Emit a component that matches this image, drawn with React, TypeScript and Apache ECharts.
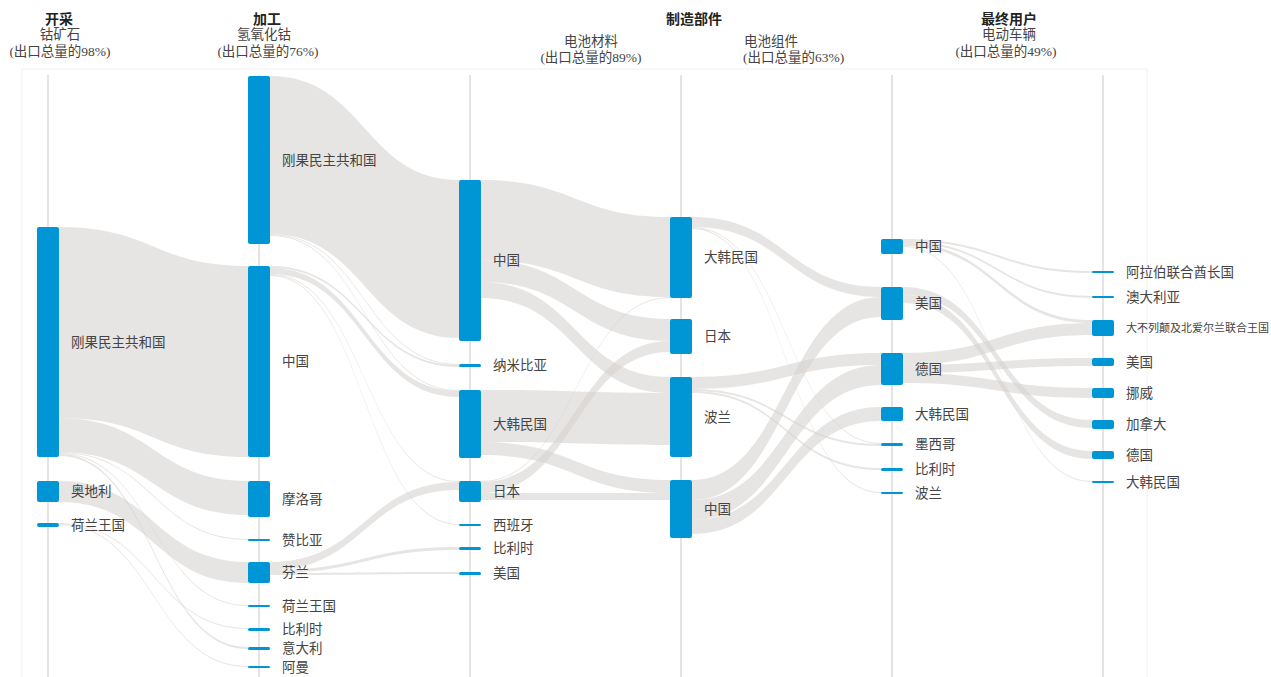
import React, { useEffect, useRef } from 'react';
import * as echarts from 'echarts';

const FONT = "'Liberation Serif', 'Noto Sans CJK SC', serif";

// ---------- data: countries and relative export volumes per stage ----------
const MINING_COUNTRIES = ['刚果民主共和国', '奥地利', '荷兰王国'];
const MINING_VALUES = [230, 21, 4];

const PROCESS_COUNTRIES = ['刚果民主共和国', '中国', '摩洛哥', '赞比亚', '芬兰', '荷兰王国', '比利时', '意大利', '阿曼'];
const PROCESS_VALUES = [168, 191, 36, 2, 21, 2, 3, 3, 2];

const MATERIAL_COUNTRIES = ['中国', '纳米比亚', '大韩民国', '日本', '西班牙', '比利时', '美国'];
const MATERIAL_VALUES = [161, 3, 68, 21, 2, 3, 3];

const CELL_COUNTRIES = ['大韩民国', '日本', '波兰', '中国'];
const CELL_VALUES = [81, 35, 80, 58];

const EV_COUNTRIES = ['中国', '美国', '德国', '大韩民国', '墨西哥', '比利时', '波兰'];
const EV_VALUES = [15, 33, 32, 14, 3, 3, 2];

const MARKET_COUNTRIES = ['阿拉伯联合酋长国', '澳大利亚', '大不列颠及北爱尔兰联合王国', '美国', '挪威', '加拿大', '德国', '大韩民国'];
const MARKET_VALUES = [2, 2, 16, 8, 10, 9, 8, 2];

// flows between consecutive stages: [source, target, value]
const FLOWS_MINING_PROCESS: [string, string, number][] = [
  ['刚果民主共和国', '中国', 191],
  ['刚果民主共和国', '摩洛哥', 34],
  ['刚果民主共和国', '赞比亚', 1],
  ['刚果民主共和国', '荷兰王国', 1],
  ['刚果民主共和国', '意大利', 2],
  ['奥地利', '芬兰', 21],
  ['荷兰王国', '比利时', 1],
  ['荷兰王国', '阿曼', 1],
];
const FLOWS_PROCESS_MATERIAL: [string, string, number][] = [
  ['刚果民主共和国', '中国', 158],
  ['刚果民主共和国', '纳米比亚', 1],
  ['刚果民主共和国', '大韩民国', 1],
  ['中国', '纳米比亚', 2],
  ['中国', '大韩民国', 6],
  ['中国', '日本', 1],
  ['中国', '西班牙', 1],
  ['芬兰', '日本', 8],
  ['芬兰', '比利时', 3],
  ['芬兰', '美国', 2],
];
const FLOWS_MATERIAL_CELL: [string, string, number][] = [
  ['中国', '大韩民国', 80],
  ['中国', '日本', 22],
  ['中国', '波兰', 16],
  ['大韩民国', '波兰', 52],
  ['大韩民国', '中国', 13],
  ['日本', '大韩民国', 1],
  ['日本', '日本', 11],
  ['日本', '中国', 7],
];
const FLOWS_CELL_EV: [string, string, number][] = [
  ['大韩民国', '美国', 10],
  ['大韩民国', '墨西哥', 1],
  ['大韩民国', '波兰', 1],
  ['波兰', '德国', 12],
  ['波兰', '墨西哥', 2],
  ['波兰', '比利时', 2],
  ['中国', '美国', 20],
  ['中国', '德国', 20],
  ['中国', '大韩民国', 14],
];
const FLOWS_EV_MARKET: [string, string, number][] = [
  ['中国', '阿拉伯联合酋长国', 2],
  ['中国', '澳大利亚', 2],
  ['中国', '大不列颠及北爱尔兰联合王国', 3],
  ['中国', '大韩民国', 1],
  ['美国', '加拿大', 8],
  ['美国', '德国', 8],
  ['德国', '大不列颠及北爱尔兰联合王国', 12],
  ['德国', '美国', 8],
  ['德国', '挪威', 10],
];

// ---------- layout (pixel positions of node tops, per stage) ----------
const NODE_TOPS = [
  [227, 481, 523],
  [76, 266, 481, 539, 562, 605, 628, 647, 666],
  [180, 364, 390, 481, 524, 547, 572],
  [217, 319, 377, 480],
  [239, 287, 353, 407, 443, 468, 492],
  [271, 296, 320, 358, 388, 420, 451, 481],
];
const SERIES_LEFT = 37;
const NODE_W = 22;
const COL_STEP = 211;

const STAGE_COUNTRIES = [MINING_COUNTRIES, PROCESS_COUNTRIES, MATERIAL_COUNTRIES, CELL_COUNTRIES, EV_COUNTRIES, MARKET_COUNTRIES];
const STAGE_VALUES = [MINING_VALUES, PROCESS_VALUES, MATERIAL_VALUES, CELL_VALUES, EV_VALUES, MARKET_VALUES];
const STAGE_FLOWS = [FLOWS_MINING_PROCESS, FLOWS_PROCESS_MATERIAL, FLOWS_MATERIAL_CELL, FLOWS_CELL_EV, FLOWS_EV_MARKET];

const key = (name: string, d: number) => `${name}@${d}`;

function buildOption() {
  const colSums = STAGE_VALUES.map((vals) => vals.reduce((a, b) => a + b, 0));
  const H = Math.max(...colSums);
  const nodes: any[] = [];
  STAGE_COUNTRIES.forEach((names, d) => {
    names.forEach((n, i) => {
      nodes.push({
        name: key(n, d),
        value: STAGE_VALUES[d][i],
        depth: d,
        localY: NODE_TOPS[d][i] / H,
        label: n.length > 10 ? { fontSize: 11 } : undefined,
      });
    });
  });
  const links: any[] = [];
  STAGE_FLOWS.forEach((flows, d) => {
    flows.forEach(([s, t, v]) => {
      links.push({ source: key(s, d), target: key(t, d + 1), value: v });
    });
  });

  const colCenters = STAGE_COUNTRIES.map((_, d) => SERIES_LEFT + NODE_W / 2 + d * COL_STEP);

  const headerText = (text: string, x: number, y: number, bold = false, align = 'center') => ({
    type: 'text',
    z: 10,
    style: {
      text,
      x,
      y,
      textAlign: align,
      textVerticalAlign: 'middle',
      fontFamily: FONT,
      fontSize: bold ? 14 : 13.5,
      fontWeight: bold ? 'bold' : 'normal',
      fill: bold ? '#222' : '#444',
    },
  });

  const graphics: any[] = [
    {
      type: 'rect',
      z: -10,
      shape: { x: 22, y: 69, width: 1125, height: 620 },
      style: { fill: 'none', stroke: '#f1f1f1', lineWidth: 1 },
    },
    ...colCenters.map((x) => ({
      type: 'line',
      z: -9,
      shape: { x1: x, y1: 75, x2: x, y2: 677 },
      style: { stroke: '#e4e4e4', lineWidth: 2 },
    })),
    headerText('开采', 59, 19, true),
    headerText('钴矿石', 60, 34),
    headerText('(出口总量的98%)', 60, 51),
    headerText('加工', 267, 19, true),
    headerText('氢氧化钴', 264, 34),
    headerText('(出口总量的76%)', 268, 51),
    headerText('制造部件', 694, 19, true),
    headerText('电池材料', 591, 41),
    headerText('(出口总量的89%)', 591, 57),
    headerText('电池组件', 744, 41, false, 'left'),
    headerText('(出口总量的63%)', 743, 57, false, 'left'),
    headerText('最终用户', 1009, 19, true),
    headerText('电动车辆', 1009, 34),
    headerText('(出口总量的49%)', 1006, 51),
  ];

  return {
    animation: false,
    backgroundColor: '#ffffff',
    graphic: { elements: graphics },
    series: [
      {
        type: 'sankey',
        left: SERIES_LEFT,
        top: 0,
        width: NODE_W + COL_STEP * 5,
        height: H,
        nodeWidth: NODE_W,
        nodeGap: 0,
        layoutIterations: 0,
        nodeAlign: 'left',
        draggable: false,
        emphasis: { disabled: true },
        itemStyle: { color: '#0096d6', borderWidth: 0, borderRadius: 2 },
        lineStyle: { color: '#d4d0cc', opacity: 0.55, curveness: 0.5 },
        label: {
          show: true,
          position: 'right',
          distance: 12,
          fontFamily: FONT,
          fontSize: 13.5,
          color: '#444',
          formatter: (p: any) => String(p.name).split('@')[0],
        },
        data: nodes,
        links,
      },
    ],
  };
}

export default function App() {
  const ref = useRef<HTMLDivElement>(null);
  useEffect(() => {
    document.body.style.margin = '0';
    const chart = echarts.init(ref.current!, null, { renderer: 'svg' });
    chart.setOption(buildOption() as any);
    return () => chart.dispose();
  }, []);
  return <div ref={ref} style={{ width: 1271, height: 677 }} />;
}
